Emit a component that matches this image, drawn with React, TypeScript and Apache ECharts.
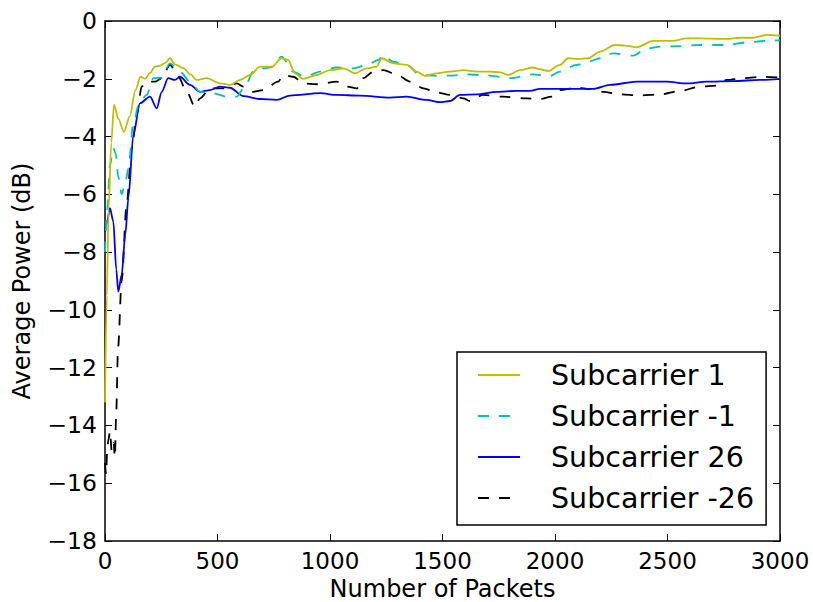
import React, { useEffect, useRef } from "react";
import * as echarts from "echarts";

const seriesNames = ["Subcarrier 1", "Subcarrier -1", "Subcarrier 26", "Subcarrier -26"];

const sc1X = [0, 8, 16, 28, 40, 60, 84, 110, 135, 158, 178, 200, 222, 244, 268, 289, 311, 348, 380, 407, 452, 511, 555, 600, 644, 689, 741, 785, 814, 844, 881, 941, 1000, 1059, 1111, 1163, 1207, 1230, 1281, 1341, 1385, 1422, 1474, 1533, 1593, 1652, 1711, 1756, 1793, 1844, 1902, 1933, 1969, 2022, 2058, 2102, 2147, 2200, 2267, 2311, 2363, 2436, 2524, 2585, 2644, 2763, 2822, 2880, 2941, 3000];
const sc1Y = [-13.2, -9.5, -6.5, -4.2, -2.9, -3.4, -3.84, -3.3, -2.4, -1.93, -2.0, -1.8, -1.58, -1.55, -1.45, -1.29, -1.5, -1.63, -1.85, -2.04, -1.98, -2.16, -2.21, -2.04, -1.87, -1.58, -1.58, -1.29, -1.35, -1.81, -2.0, -1.87, -1.7, -1.64, -1.81, -1.64, -1.58, -1.29, -1.47, -1.52, -1.75, -1.9, -1.81, -1.75, -1.7, -1.75, -1.75, -1.78, -1.87, -1.7, -1.61, -1.67, -1.73, -1.52, -1.29, -1.31, -1.29, -1.06, -0.83, -0.85, -0.91, -0.69, -0.69, -0.6, -0.6, -0.62, -0.58, -0.58, -0.48, -0.51];

const scm1X = [0, 10, 22, 37, 48, 59, 74, 90, 104, 125, 150, 185, 215, 252, 289, 333, 378, 422, 481, 541, 585, 622, 659, 700, 741, 785, 836, 889, 956, 1030, 1104, 1163, 1215, 1237, 1281, 1341, 1400, 1474, 1533, 1607, 1681, 1756, 1800, 1902, 1978, 2022, 2096, 2147, 2200, 2259, 2348, 2407, 2467, 2556, 2644, 2763, 2852, 2941, 3000];
const scm1Y = [-8.0, -6.5, -5.0, -4.4, -4.6, -5.4, -6.0, -5.6, -5.1, -3.6, -2.9, -2.56, -1.98, -1.96, -1.47, -1.75, -2.1, -2.45, -2.5, -2.62, -2.62, -2.27, -1.75, -1.64, -1.6, -1.23, -1.75, -1.93, -1.75, -1.61, -1.64, -1.52, -1.35, -1.18, -1.41, -1.52, -1.87, -1.9, -1.89, -1.85, -1.87, -1.93, -1.98, -1.85, -1.9, -1.75, -1.52, -1.41, -1.29, -1.12, -1.2, -0.95, -0.89, -0.87, -0.83, -0.83, -0.74, -0.69, -0.66];

const sc26X = [0, 8, 22, 37, 50, 59, 74, 90, 104, 126, 155, 200, 230, 252, 281, 311, 333, 378, 422, 467, 511, 555, 615, 689, 763, 822, 956, 1030, 1133, 1267, 1341, 1430, 1489, 1533, 1578, 1652, 1741, 1830, 1889, 1933, 2052, 2170, 2244, 2363, 2496, 2585, 2674, 2793, 2911, 3000];
const sc26Y = [-7.3, -7.0, -6.48, -6.94, -8.6, -9.37, -8.79, -7.4, -6.12, -3.94, -2.85, -2.62, -3.02, -2.45, -1.98, -2.04, -1.93, -2.21, -2.45, -2.39, -2.27, -2.31, -2.6, -2.7, -2.73, -2.58, -2.5, -2.56, -2.58, -2.65, -2.62, -2.73, -2.81, -2.77, -2.56, -2.54, -2.45, -2.42, -2.42, -2.35, -2.35, -2.35, -2.21, -2.1, -2.1, -2.16, -2.1, -2.08, -2.04, -2.0];

const scm26X = [0, 5, 10, 15, 22, 30, 38, 44, 50, 58, 74, 96, 119, 141, 163, 185, 222, 252, 289, 326, 363, 400, 422, 467, 526, 585, 615, 659, 703, 770, 792, 837, 881, 941, 1030, 1074, 1119, 1148, 1193, 1237, 1296, 1356, 1415, 1474, 1533, 1593, 1622, 1681, 1770, 1874, 1933, 1985, 2022, 2096, 2156, 2215, 2289, 2378, 2467, 2556, 2644, 2719, 2763, 2837, 2926, 3000];
const scm26Y = [-15.3, -15.7, -14.8, -14.5, -14.2, -14.9, -14.6, -15.1, -13.5, -11.3, -9.0, -6.37, -4.4, -3.25, -2.27, -2.1, -2.1, -1.98, -1.52, -1.93, -2.45, -2.97, -2.68, -2.33, -2.33, -2.16, -2.27, -2.45, -2.39, -2.1, -1.87, -1.93, -2.16, -2.19, -2.1, -2.27, -2.33, -1.98, -1.75, -1.7, -1.85, -2.1, -2.33, -2.47, -2.56, -2.68, -2.77, -2.56, -2.62, -2.68, -2.7, -2.62, -2.39, -2.31, -2.35, -2.45, -2.54, -2.58, -2.54, -2.42, -2.27, -2.24, -2.04, -1.98, -1.93, -1.96];

const seriesColors = ["#bfbf00", "#00bfbf", "#0000ff", "#000000"];
const seriesDashed = [false, true, false, true];

const FONT = "DejaVu Sans";

function pairs(xs: number[], ys: number[]) {
  return xs.map((x, i) => [x, ys[i]]);
}

const fmtMinus = (v: number) => (v < 0 ? "\u2212" + Math.abs(v) : String(v));
const fmtPlain = (v: number) => String(v);

export default function App() {
  const ref = useRef<HTMLDivElement>(null);
  useEffect(() => {
    if (!ref.current) return;
    const chart = echarts.init(ref.current, undefined, { renderer: "svg" });
    const allData = [pairs(sc1X, sc1Y), pairs(scm1X, scm1Y), pairs(sc26X, sc26Y), pairs(scm26X, scm26Y)];
    const tick = { show: true, inside: true, length: 7, lineStyle: { color: "#000", width: 1 } };
    const line = { show: true, onZero: false, lineStyle: { color: "#000", width: 1.5 } };
    chart.setOption({
      animation: false,
      backgroundColor: "#fff",
      grid: { left: 105, right: 33, top: 21, bottom: 61, containLabel: false, outerBoundsMode: "none" },
      xAxis: [
        {
          type: "value", min: 0, max: 3000, interval: 500, position: "bottom",
          axisLine: line, axisTick: tick, splitLine: { show: false },
          axisLabel: { color: "#000", fontFamily: FONT, fontSize: 23, margin: 8, formatter: fmtPlain },
          name: "Number of Packets", nameLocation: "middle", nameGap: 35,
          nameTextStyle: { color: "#000", fontFamily: FONT, fontSize: 24, lineHeight: 24 },
        },
        {
          type: "value", min: 0, max: 3000, interval: 500, position: "top",
          axisLine: line, axisTick: tick, splitLine: { show: false }, axisLabel: { show: false },
        },
      ],
      yAxis: [
        {
          type: "value", min: -18, max: 0, interval: 2, position: "left",
          axisLine: line, axisTick: tick, splitLine: { show: false },
          axisLabel: { color: "#000", fontFamily: FONT, fontSize: 23.5, margin: 8, formatter: fmtMinus },
          name: "Average Power (dB)", nameLocation: "middle", nameGap: 71,
          nameTextStyle: { color: "#000", fontFamily: FONT, fontSize: 24 },
        },
        {
          type: "value", min: -18, max: 0, interval: 2, position: "right",
          axisLine: line, axisTick: tick, splitLine: { show: false }, axisLabel: { show: false },
        },
      ],
      legend: {
        left: 457, top: 352, orient: "vertical",
        backgroundColor: "#fff", borderColor: "#000", borderWidth: 1.5, borderRadius: 0,
        padding: [8, 12, 12, 20],
        itemWidth: 42, itemHeight: 30, itemGap: 11,
        itemStyle: { opacity: 0 },
        textStyle: { color: "#000", fontFamily: FONT, fontSize: 28.5, lineHeight: 30, padding: [0, 0, 0, 26] },
        data: seriesNames,
      },
      series: seriesNames.map((name, i) => ({
        name, type: "line", xAxisIndex: 0, yAxisIndex: 0,
        data: allData[i], symbol: "none", showSymbol: false,
        smooth: 0.3, smoothMonotone: "x",
        z: 10 - i,
        lineStyle: { color: seriesColors[i], width: 1.8, type: seriesDashed[i] ? [11, 10] : "solid" },
        itemStyle: { color: seriesColors[i] },
      })),
    });
    return () => chart.dispose();
  }, []);
  return <div ref={ref} style={{ width: 813, height: 602, position: "absolute", left: 0, top: 0 }} />;
}
